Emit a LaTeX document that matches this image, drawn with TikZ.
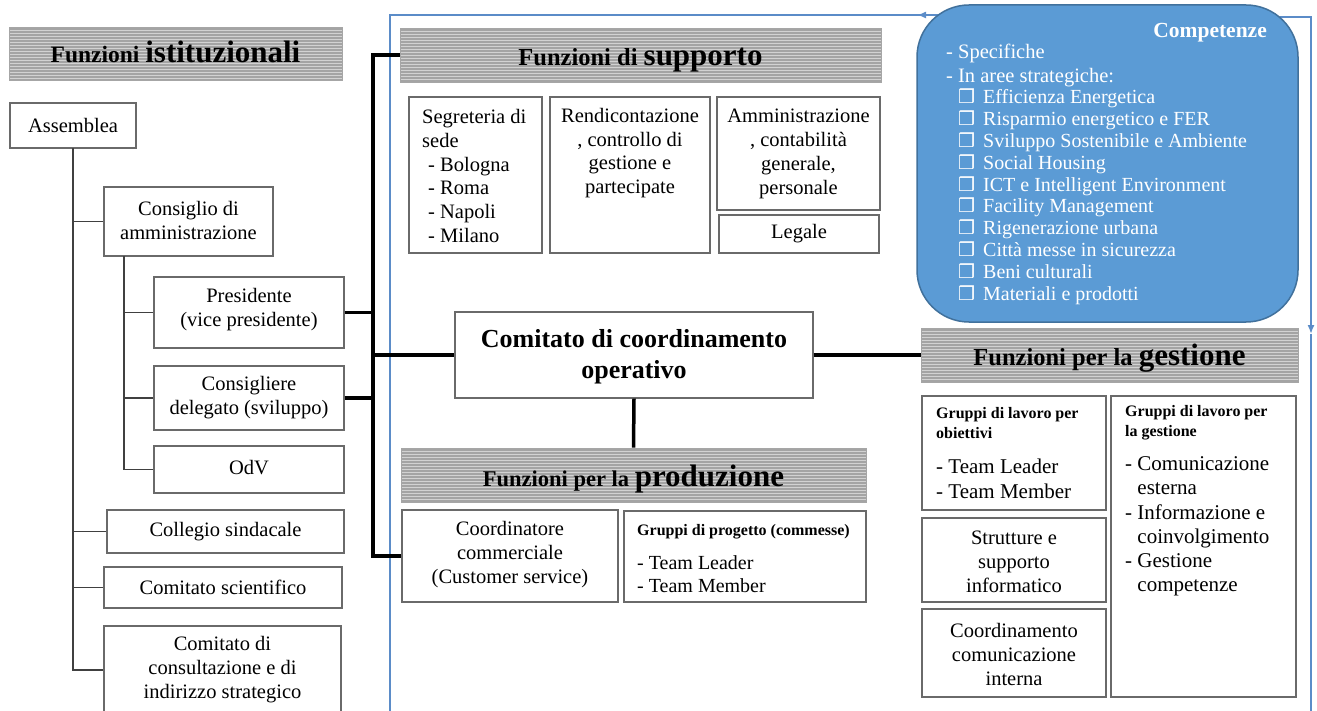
\documentclass[tikz,border=0pt]{standalone}
\usepackage{fontspec}
\setmainfont{Liberation Serif}
\newfontfamily\symfnt{DejaVu Sans}
\usetikzlibrary{arrows.meta,fit}

\definecolor{compfill}{HTML}{5B9BD5}
\definecolor{compdraw}{HTML}{41719C}
\definecolor{framecol}{HTML}{5B8CC8}
\definecolor{boxdraw}{HTML}{6A6A6A}
\definecolor{headfill}{HTML}{A4A4A4}
\definecolor{headline}{HTML}{D2D2D2}

\newcommand{\fs}[2]{\fontsize{#1}{#2}\selectfont}
\newcommand{\hpart}[2]{{\fs{#1}{#1}\bfseries #2}}

\tikzset{
 box/.style={draw=boxdraw, line width=1.2pt, fill=white, inner sep=0pt},
 txt/.style={inner sep=0pt, align=center, font=\fs{20.5}{24}},
 ltxt/.style={inner sep=0pt, align=left, font=\fs{20.5}{24}},
 btxt/.style={inner sep=0pt, align=left, font=\fs{16}{20}\bfseries},
 tree/.style={draw=black!75, line width=1.1pt},
 bus/.style={draw=black, line width=3.5pt},
 frame/.style={draw=framecol, line width=1.6pt},
 head/.style={draw=black!35, line width=0.8pt, fill=headfill, inner sep=0pt,
   path picture={\foreach \k in {1,...,19}{\draw[headline, line width=0.9pt]
     ([yshift=-\k*3pt]path picture bounding box.north west) --
     ([yshift=-\k*3pt]path picture bounding box.north east);}}},
 ctxt/.style={inner sep=0pt, text=white, font=\fs{19.5}{22}},
}

\begin{document}
\begin{tikzpicture}[x=1pt,y=-1pt]
\useasboundingbox (0,0) rectangle (1317,711);
\fill[white] (0,0) rectangle (1317,711);

% ---------- blue frame ----------
\coordinate (fBL) at (390,716);
\coordinate (fTL) at (390,15);
\coordinate (fA) at (938,15);
\coordinate (fAt) at (917,15);
\coordinate (fR0) at (1280,17);
\coordinate (fR1) at (1311,17);
\coordinate (fR2) at (1311,334);
\coordinate (fBR) at (1311,716);
\draw[frame] (fBL) -- (fTL) -- (fA);
\draw[frame,-{Latex[length=9pt,width=7pt]}] (fA) -- (fAt);
\draw[frame,-{Latex[length=9pt,width=7pt]}] (fR0) -- (fR1) -- (fR2);
\draw[frame] (fR2) -- (fBR);

% ---------- Competenze ----------
\node[draw=compdraw, line width=1.5pt, fill=compfill, rounded corners=52pt,
      inner sep=0pt, fit={(917,5) (1298,322)}] (comp) {};
\node[inner sep=0pt, anchor=base east, text=white, font=\fs{21.5}{24}\bfseries] (compT) at (1267,38) {Competenze};
\node[ctxt, anchor=base west, font=\fs{20.5}{22}] (spec) at (946,59) {- Specifiche};
\node[ctxt, anchor=base west, font=\fs{20.5}{22}] (aree) at (946,83) {- In aree strategiche:};
\foreach \t [count=\i] in {Efficienza Energetica,Risparmio energetico e FER,Sviluppo Sostenibile e Ambiente,Social Housing,ICT e Intelligent Environment,Facility Management,Rigenerazione urbana,Città messe in sicurezza,Beni culturali,Materiali e prodotti}{
  \node[ctxt, anchor=base west, font=\fs{20}{22}] (cit\i) at (983,{82.2+21.8*\i}) {\t};
  \node[ctxt, anchor=base west, font=\symfnt\bfseries\fs{19}{19}] (cbx\i) at (958,{82.2+21.8*\i}) {❒};
}

% ---------- headers ----------
\node[head, fit={(9,27) (342,80)}] (hIst) {};
\node[inner sep=0pt, anchor=base] (hIstT) at (175.5,63) {\hpart{23.5}{Funzioni\ }\hpart{31}{istituzionali}};
\node[head, fit={(400,28) (881,82)}] (hSup) {};
\node[inner sep=0pt, anchor=base] (hSupT) at (640.5,66) {\hpart{24.5}{Funzioni di\ }\hpart{31}{supporto}};
\node[head, fit={(401,448) (866,502)}] (hProd) {};
\node[inner sep=0pt, anchor=base] (hProdT) at (633.5,486) {\hpart{22.5}{Funzioni per la\ }\hpart{31}{produzione}};
\node[head, fit={(921,328) (1298,382)}] (hGest) {};
\node[inner sep=0pt, anchor=base] (hGestT) at (1109.5,365) {\hpart{24.5}{Funzioni per la\ }\hpart{31}{gestione}};

% ---------- left column ----------
\node[box, fit={(10,103) (136,148)}] (assem) {};
\node[txt] (assemT) at (assem.center) {Assemblea};
\node[box, fit={(104,187) (273,256)}] (cda) {};
\node[txt] (cdaT) at (188.5,220) {Consiglio di\\amministrazione};
\node[box, fit={(154,277) (344,348)}] (pres) {};
\node[txt] (presT) at (249,310) {Presidente\\(vice presidente)};
\node[box, fit={(154,366) (344,430)}] (cons) {};
\node[txt] (consT) at (249,397.5) {Consigliere\\delegato (sviluppo)};
\node[box, fit={(154,446) (344,493)}] (odv) {};
\node[txt] (odvT) at (249,468) {OdV};
\node[box, fit={(107,510) (344,553)}] (coll) {};
\node[txt] (collT) at (coll.center) {Collegio sindacale};
\node[box, fit={(104,567) (342,608)}] (sci) {};
\node[txt] (sciT) at (sci.center) {Comitato scientifico};
\node[box, fit={(104,626) (341,714)}] (cons2) {};
\node[txt] (cons2T) at (222.5,670) {Comitato di\\consultazione e di\\indirizzo strategico};

% tree connectors
\coordinate (tA) at (73,148);
\coordinate (tB) at (124,256);
\draw[tree] (tA) |- (cons2.west);
\draw[tree] (tA |- cda.west) -- (cda.west);
\draw[tree] (tA |- coll.west) -- (coll.west);
\draw[tree] (tA |- sci.west) -- (sci.west);
\draw[tree] (tB) |- (odv.west);
\draw[tree] (tB |- pres.west) -- (pres.west);
\draw[tree] (tB |- cons.west) -- (cons.west);

% ---------- supporto ----------
\node[box, fit={(409,97) (542,253)}] (segr) {};
\node[ltxt, anchor=west, font=\fs{20.5}{23.8}] (segrT) at (422,176) {Segreteria di\\sede\\\hspace*{6pt}- Bologna\\\hspace*{6pt}- Roma\\\hspace*{6pt}- Napoli\\\hspace*{6pt}- Milano};
\node[box, fit={(550,97) (710,253)}] (rend) {};
\node[txt, font=\fs{20.5}{23.7}] (rendT) at (630,153) {Rendicontazione\\, controllo di\\gestione e\\partecipate};
\node[box, fit={(717,97) (880,210)}] (ammi) {};
\node[txt, font=\fs{20.5}{24}] (ammiT) at (798.5,154) {Amministrazione\\, contabilità\\generale,\\personale};
\node[box, fit={(719,215) (879,253)}] (leg) {};
\node[txt] (legT) at (799,234) {Legale};

% ---------- comitato ----------
\node[box, fit={(455,312) (813,398)}] (ccom) {};
\node[inner sep=0pt, align=center, font=\fs{26}{31}\bfseries] (ccomT) at (634,357) {Comitato di coordinamento\\operativo};

% ---------- produzione ----------
\node[box, fit={(402,510) (618,602)}] (coordc) {};
\node[txt] (coordcT) at (510,555) {Coordinatore\\commerciale\\(Customer service)};
\node[box, fit={(624,511) (866,602)}] (gprog) {};
\node[btxt, anchor=west] (gprogH) at (637,532) {Gruppi di progetto (commesse)};
\node[ltxt, anchor=west, font=\fs{20}{23}] (gprogT) at (637,574.5) {- Team Leader\\- Team Member};

% ---------- gestione ----------
\node[box, fit={(922,396) (1106,510)}] (gobj) {};
\node[btxt, anchor=west] (gobjH) at (936,423) {Gruppi di lavoro per\\obiettivi};
\node[ltxt, anchor=west, font=\fs{21}{25}] (gobjT) at (936,478.5) {- Team Leader\\- Team Member};
\node[box, fit={(922,518) (1106,602)}] (strut) {};
\node[txt] (strutT) at (1014,562) {Strutture e\\supporto\\informatico};
\node[box, fit={(922,609) (1106,697)}] (ccint) {};
\node[txt] (ccintT) at (1014,654.5) {Coordinamento\\comunicazione\\interna};
\node[box, fit={(1111,396) (1296,697)}] (glg) {};
\node[btxt, anchor=west] (glgH) at (1125,423) {Gruppi di lavoro per\\la gestione};
\node[ltxt, anchor=west, font=\fs{21}{24.2}] (glgT) at (1125,526.5) {- Comunicazione\\\phantom{- }esterna\\- Informazione e\\\phantom{- }coinvolgimento\\- Gestione\\\phantom{- }competenze};

% ---------- thick bus ----------
\coordinate (busTop) at (373,55);
\coordinate (busBot) at (373,556);
\draw[bus] (hSup.west) -- (busTop) -- (busBot) -- (coordc.west);
\draw[bus] (pres.east) -- (pres.east -| busTop);
\draw[bus] (cons.east) -- (cons.east -| busTop);
\draw[bus] (busTop |- ccom.west) -- (ccom.west);
\draw[bus] (ccom.south) -- (hProd.north);
\draw[bus] (ccom.east) -- (hGest.west);
\end{tikzpicture}
\end{document}
